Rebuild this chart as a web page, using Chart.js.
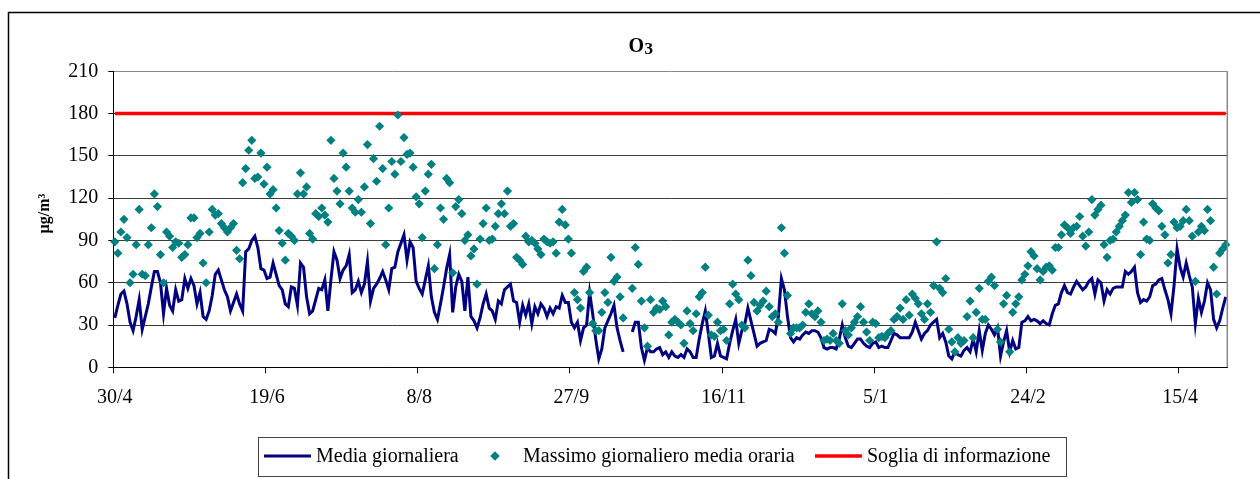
<!DOCTYPE html>
<html lang="it">
<head>
<meta charset="utf-8">
<title>O3</title>
<script src="https://cdn.jsdelivr.net/npm/chart.js@4.4.1/dist/chart.umd.min.js"></script>
<style>
  html, body { margin: 0; padding: 0; background: #ffffff; }
  #ozono { display: block; }
</style>
</head>
<body>
<canvas id="ozono" width="1260" height="479"></canvas>
<script>
// Ozono: media giornaliera e massimo giornaliero della media oraria (µg/m³), 30/4 - 30/4
const startDay = { year: 2006, month: 4, day: 30 };
const dayCount = 366;
const tickEvery = 50;
const yTicks = [0, 30, 60, 90, 120, 150, 180, 210];
const sogliaInformazione = 180;

const mediaGiornaliera = [
  35, 44, 52, 54, 45, 32, 26, 36, 48, 27,
  36, 45, 57, 68, 68, 60, 38, 56, 44, 40,
  55, 47, 48, 63, 56, 63, 58, 45, 53, 36,
  34, 40, 51, 66, 69, 62, 55, 50, 40, 46,
  52, 45, 40, 82, 84, 90, 93, 85, 70, 69,
  63, 64, 74, 66, 58, 55, 45, 43, 57, 56,
  44, 74, 71, 50, 38, 40, 48, 56, 55, 62,
  40, 62, 82, 76, 63, 69, 72, 80, 53, 55,
  61, 53, 59, 75, 47, 56, 59, 63, 68, 62,
  55, 70, 71, 82, 88, 94, 76, 89, 85, 61,
  56, 52, 62, 72, 50, 39, 34, 45, 57, 70,
  80, 39, 57, 66, 61, 40, 64, 36, 33, 28,
  35, 45, 52, 42, 40, 34, 47, 45, 55, 57,
  59, 47, 46, 32, 44, 37, 45, 31, 43, 38,
  45, 42, 36, 42, 38, 43, 42, 51, 46, 46,
  32, 28, 32, 19, 28, 30, 53, 38, 20, 6,
  13, 28, 33, 38, 44, 28, 19, 11, null, null,
  25, 32, 32, 14, 5, 14, 11, 11, 13, 14,
  9, 11, 7, 11, 8, 7, 9, 7, 13, 11,
  7, 7, 20, 31, 40, 24, 7, 8, 17, 8,
  7, 6, 17, 26, 34, 17, 26, 31, 42, 33,
  24, 15, 17, 18, 19, 27, 26, 24, 36, 63,
  55, 36, 21, 18, 21, 20, 23, 25, 24, 26,
  26, 25, 21, 14, 13, 14, 14, 13, 20, 30,
  21, 15, 14, 17, 20, 20, 17, 15, 14, 17,
  18, 14, 15, 14, 14, 19, 24, 23, 21, 21,
  21, 21, 25, 32, 26, 20, 24, 26, 30, 32,
  34, 21, 24, 18, 8, 6, 11, 9, 8, 12,
  14, 11, 20, 11, 26, 12, 24, 30, 27, 23,
  28, 8, 18, 26, 11, 19, 13, 14, 32, 33,
  36, 33, 34, 33, 31, 33, 31, 30, 38, 44,
  45, 53, 58, 53, 52, 57, 61, 58, 55, 57,
  61, 63, 52, 62, 60, 47, 55, 52, 56, 57,
  57, 57, 68, 66, 68, 71, 53, 46, 48, 47,
  50, 58, 59, 62, 63, 55, 48, 38, 58, 84,
  71, 64, 74, 65, 57, 31, 49, 39, 47, 60,
  55, 34, 28, 33, 42, 50
];

const massimoOrario = [
  89, 81, 96, 105, 92, 60, 66, 87, 112, 66,
  65, 87, 99, 123, 114, 80, 60, 96, 93, 85,
  89, 88, 78, 80, 87, 106, 106, 92, 95, 74,
  60, 96, 112, 108, 109, 102, 99, 96, 99, 102,
  83, 77, 131, 141, 154, 161, 134, 135, 152, 130,
  142, 123, 126, 113, 97, 88, 76, 95, 93, 90,
  123, 138, 123, 128, 95, 91, 109, 107, 113, 108,
  103, 161, 134, 125, 116, 152, 142, 125, 113, 110,
  119, 110, 128, 158, 102, 148, 132, 171, 141, 87,
  113, 146, 137, 179, 146, 163, 151, 152, 142, 121,
  116, 92, 125, 137, 144, 70, 87, 113, 105, 134,
  131, 67, 114, 119, 109, 90, 94, 79, 84, 59,
  91, 102, 113, 90, 91, 100, 109, 116, 109, 125,
  100, 102, 78, 76, 73, 93, 89, 90, 88, 84,
  80, 91, 89, 88, 89, 81, 103, 112, 101, 91,
  81, 53, 48, 42, 68, 71, 53, 31, 26, 26,
  39, 53, 46, 78, 61, 64, 50, 35, null, null,
  56, 85, 73, 47, 28, 15, 48, 39, 42, 41,
  47, 43, 23, 32, 34, 32, 30, 17, 40, 31,
  26, 38, 50, 53, 71, 37, 23, 22, 32, 26,
  27, 19, 45, 59, 52, 48, 30, 28, 76, 65,
  46, 40, 44, 47, 54, 43, 36, 38, 32, 99,
  81, 51, 24, 28, 28, 28, 30, 39, 45, 38,
  36, 40, 32, 19, 20, 19, 24, 19, 17, 45,
  26, 23, 28, 32, 36, 43, 32, 25, 19, 32,
  31, 21, 22, 21, 24, 26, 34, 36, 42, 34,
  48, 37, 52, 49, 45, 38, 34, 45, 39, 58,
  89, 56, 53, 63, 27, 18, 11, 21, 17, 19,
  36, 47, 21, 39, 56, 34, 34, 61, 64, 58,
  27, 18, 45, 51, 11, 39, 45, 50, 62, 66,
  72, 82, 79, 70, 62, 68, 71, 72, 69, 85,
  85, 94, 101, 99, 95, 99, 100, 107, 93, 86,
  96, 119, 108, 112, 115, 87, 78, 90, 91, 96,
  100, 104, 108, 124, 117, 124, 119, 80, 103, 91,
  90, 116, 113, 111, 100, 94, 74, 80, 103, 99,
  100, 104, 112, 104, 93, 61, 96, 100, 97, 112,
  104, 71, 52, 81, 84, 87
];

// Etichette giornaliere "g/m"
const giorni = [];
for (let i = 0; i < dayCount; i++) {
  const d = new Date(Date.UTC(startDay.year, startDay.month - 1, startDay.day + i));
  giorni.push(d.getUTCDate() + '/' + (d.getUTCMonth() + 1));
}
const soglia = giorni.map(() => sogliaInformazione);

const FONT = "'Liberation Serif', 'Times New Roman', serif";
const BLU = '#000080';
const VERDE = '#008080';
const ROSSO = '#ff0000';

// Cornice, titolo, titolo dell'asse y e legenda
const decorazioni = {
  id: 'decorazioni',
  beforeDraw(chart) {
    const ctx = chart.ctx;
    ctx.save();
    ctx.fillStyle = '#ffffff';
    ctx.fillRect(0, 0, chart.width, chart.height);
    ctx.strokeStyle = '#000000';
    ctx.lineWidth = 1.5;
    ctx.strokeRect(8.5, 12.5, chart.width + 20, chart.height + 20);
    ctx.restore();
  },
  afterDraw(chart) {
    const ctx = chart.ctx;
    const a = chart.chartArea;
    ctx.save();
    // bordo destro dell'area del grafico
    ctx.strokeStyle = '#888888';
    ctx.lineWidth = 1.5;
    ctx.beginPath();
    ctx.moveTo(a.right, a.top);
    ctx.lineTo(a.right, a.bottom);
    ctx.stroke();

    // titolo O3
    ctx.fillStyle = '#000000';
    ctx.textAlign = 'left';
    ctx.textBaseline = 'alphabetic';
    ctx.font = 'bold 20px ' + FONT;
    ctx.fillText('O', 628.5, 51.5);
    const wO = ctx.measureText('O').width;
    ctx.font = 'bold 17px ' + FONT;
    ctx.fillText('3', 628.5 + wO + 0.5, 54);

    // titolo asse y
    ctx.save();
    ctx.translate(45, 213.5);
    ctx.rotate(-Math.PI / 2);
    ctx.font = 'bold 16px ' + FONT;
    ctx.textAlign = 'center';
    ctx.textBaseline = 'middle';
    ctx.fillText('µg/m³', 0, 0);
    ctx.restore();

    // legenda
    ctx.strokeStyle = '#444444';
    ctx.lineWidth = 1;
    ctx.strokeRect(258.5, 437.5, 808, 39);
    const yL = 456;
    ctx.font = '20px ' + FONT;
    ctx.textBaseline = 'alphabetic';
    ctx.fillStyle = '#000000';

    ctx.strokeStyle = BLU;
    ctx.lineWidth = 3;
    ctx.beginPath(); ctx.moveTo(264, yL); ctx.lineTo(311, yL); ctx.stroke();
    ctx.fillText(chart.data.datasets[0].label, 316, 462);

    ctx.fillStyle = VERDE;
    ctx.beginPath();
    ctx.moveTo(495, yL - 4.8); ctx.lineTo(499.8, yL); ctx.lineTo(495, yL + 4.8); ctx.lineTo(490.2, yL);
    ctx.closePath(); ctx.fill();
    ctx.fillStyle = '#000000';
    ctx.fillText(chart.data.datasets[1].label, 523, 462);

    ctx.strokeStyle = ROSSO;
    ctx.lineWidth = 3.5;
    ctx.beginPath(); ctx.moveTo(815, yL); ctx.lineTo(862, yL); ctx.stroke();
    ctx.fillText(chart.data.datasets[2].label, 867, 462);
    ctx.restore();
  }
};

new Chart(document.getElementById('ozono'), {
  type: 'line',
  data: {
    labels: giorni,
    datasets: [
      {
        label: 'Media giornaliera',
        data: mediaGiornaliera,
        borderColor: BLU,
        backgroundColor: BLU,
        borderWidth: 3,
        pointRadius: 0,
        tension: 0,
        spanGaps: false,
        order: 2
      },
      {
        label: 'Massimo giornaliero media oraria',
        data: massimoOrario,
        showLine: false,
        pointStyle: 'rectRot',
        pointRadius: 4.6,
        pointBorderWidth: 0,
        pointBackgroundColor: VERDE,
        pointBorderColor: VERDE,
        borderColor: VERDE,
        backgroundColor: VERDE,
        order: 0
      },
      {
        label: 'Soglia di informazione',
        data: soglia,
        borderColor: ROSSO,
        backgroundColor: ROSSO,
        borderWidth: 3.5,
        pointRadius: 0,
        order: 1
      }
    ]
  },
  options: {
    responsive: false,
    animation: false,
    events: [],
    layout: { padding: { left: 0, right: 32.7, top: 71.3, bottom: 0 } },
    plugins: {
      legend: { display: false },
      title: { display: false },
      tooltip: { enabled: false }
    },
    scales: {
      x: {
        type: 'category',
        offset: true,
        afterFit(scale) { scale.height = 111.7; },
        border: { display: true, color: '#000000', width: 1 },
        grid: {
          offset: true,
          drawOnChartArea: false,
          drawTicks: true,
          tickLength: 6,
          tickWidth: 1,
          tickColor: (c) => (c.index % tickEvery === 0 ? '#000000' : 'rgba(0,0,0,0)')
        },
        ticks: {
          autoSkip: false,
          maxRotation: 0,
          minRotation: 0,
          padding: 12,
          color: '#000000',
          font: { family: FONT, size: 20 },
          callback: (v, i) => (i % tickEvery === 0 ? giorni[i] : '')
        }
      },
      y: {
        min: yTicks[0],
        max: yTicks[yTicks.length - 1],
        afterFit(scale) { scale.width = 113.3; },
        afterBuildTicks(scale) { scale.ticks = yTicks.map((v) => ({ value: v })); },
        border: { display: true, color: '#000000', width: 1 },
        grid: {
          drawTicks: true,
          tickLength: 5,
          tickColor: '#000000',
          lineWidth: 1,
          color: (c) => (c.tick && c.tick.value === yTicks[yTicks.length - 1] ? '#888888' : '#3c3c3c')
        },
        ticks: {
          padding: 10,
          color: '#000000',
          font: { family: FONT, size: 20 }
        }
      }
    }
  },
  plugins: [decorazioni]
});
</script>
</body>
</html>
